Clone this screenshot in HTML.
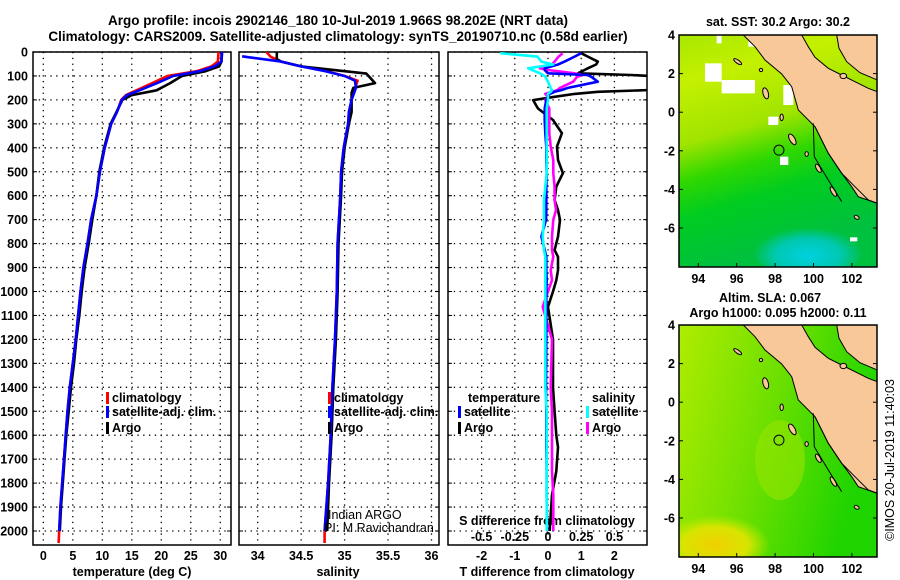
<!DOCTYPE html>
<html><head><meta charset="utf-8">
<style>
html,body{margin:0;padding:0;background:#fff;}
svg{display:block;font-family:"Liberation Sans",sans-serif;}
.b{font-weight:bold;font-size:12.5px;}
.t{font-weight:bold;font-size:13.5px;}
</style></head>
<body>
<svg id="c" width="900" height="580" viewBox="0 0 900 580" xmlns="http://www.w3.org/2000/svg">
<defs>
<clipPath id="cp1"><rect x="33" y="52" width="198" height="493"/></clipPath>
<clipPath id="cp2"><rect x="239" y="52" width="200" height="493"/></clipPath>
<clipPath id="cp3"><rect x="448" y="52" width="199" height="493"/></clipPath>
<clipPath id="cm1"><rect x="679" y="35" width="198" height="232"/></clipPath>
<clipPath id="cm2"><rect x="679" y="325" width="198" height="232"/></clipPath>
<linearGradient id="sst" x1="0" y1="0" x2="0.25" y2="1">
<stop offset="0" stop-color="#a8e800"/><stop offset="0.2" stop-color="#c4f000"/><stop offset="0.45" stop-color="#a0e400"/>
<stop offset="0.6" stop-color="#30d800"/><stop offset="0.75" stop-color="#00cc20"/><stop offset="1" stop-color="#00c040"/></linearGradient>
<radialGradient id="cyan" cx="0.5" cy="0.6" r="0.5"><stop offset="0" stop-color="#00d0e0"/><stop offset="0.6" stop-color="#00c8b0"/><stop offset="1" stop-color="#00c8b0" stop-opacity="0"/></radialGradient>
<linearGradient id="sla" x1="0" y1="0" x2="1" y2="0.3">
<stop offset="0" stop-color="#b0ec00"/><stop offset="0.5" stop-color="#70e000"/><stop offset="1" stop-color="#20d400"/></linearGradient>
<radialGradient id="yel" cx="0.5" cy="0.5" r="0.5"><stop offset="0" stop-color="#f0d000"/><stop offset="0.6" stop-color="#d8e400"/><stop offset="1" stop-color="#c0ec00" stop-opacity="0"/></radialGradient>
</defs>
<g id="root"></g>
</svg>
<script>
// ---------- data ----------
const depthTicks = [0,100,200,300,400,500,600,700,800,900,1000,1100,1200,1300,1400,1500,1600,1700,1800,1900,2000];
const tempTicks = [0,5,10,15,20,25,30];
const salTicks = [34,34.5,35,35.5,36];
const salTickLabels = ["34","34.5","35","35.5","36"];
const tdiffTicks = [-2,-1,0,1,2];
const sdiffTicks = [-0.5,-0.25,0,0.25,0.5];
const sdiffTickLabels = ["-0.5","-0.25","0","0.25","0.5"];

const argoTdepth = [0,40,60,80,100,130,160,180,200,250,300,400,500,600,700,800,900,1000,1100,1200,1300,1400,1500,1600,1700,1800,1900,2000];
const argoTemp =   [30.2,30.2,29.8,27.5,23.5,21.5,19.2,15,13.4,12.4,11.4,10.3,9.5,9.0,8.3,7.7,7.0,6.5,6.1,5.6,5.2,4.7,4.3,3.9,3.6,3.3,3.0,2.8];
const climTdepth = [0,40,60,80,100,130,160,180,200,250,300,400,500,600,700,800,900,1000,1100,1200,1300,1400,1500,1600,1700,1800,1900,2000,2050];
const climTemp =   [29.7,29.6,28.5,26,21,18.5,15.8,14,13.2,12.5,11.5,10.4,9.6,9.0,8.1,7.5,6.8,6.3,5.9,5.5,5.0,4.5,4.1,3.8,3.5,3.2,2.9,2.7,2.6];
const satTdepth =  [0,40,60,80,100,130,160,180,200,250,300,400,500,600,700,800,900,1000,1100,1200,1300,1400,1500,1600,1700,1800,1900,2000];
const satTemp =    [30.3,30.2,29,26.5,22,19.3,16.3,14.2,13.3,12.5,11.5,10.4,9.6,9.0,8.1,7.5,6.8,6.3,5.9,5.5,5.0,4.5,4.1,3.8,3.5,3.2,2.9,2.7];

const argoSdepth = [0,30,40,60,80,90,110,130,150,170,200,250,300,400,500,600,800,1000,1200,1400,1600,1800,2000];
const argoSal =    [34.22,34.22,34.27,34.5,35.0,35.25,35.3,35.35,35.1,35.08,35.08,35.08,35.05,35.0,34.97,34.96,34.93,34.92,34.9,34.87,34.85,34.82,34.8];
const climSdepth = [0,20,40,60,80,100,120,150,200,250,300,400,500,600,800,1000,1200,1400,1600,1800,2000,2050];
const climSal =    [34.1,34.15,34.27,34.5,34.8,35.0,35.15,35.12,35.08,35.05,35.04,34.99,34.96,34.95,34.92,34.91,34.89,34.86,34.84,34.81,34.77,34.77];
const satSdepth =  [18,22,40,60,80,100,120,150,200,250,300,400,500,600,800,1000,1200,1400,1600,1800,2000];
const satSal =     [33.82,33.9,34.27,34.5,34.78,35.0,35.12,35.13,35.08,35.05,35.04,34.99,34.96,34.95,34.92,34.91,34.89,34.86,34.84,34.81,34.77];

const diffDepth =  [5,19,40,52,68,75,89,96,103,124,150,159,166,175,187,201,236,284,339,395,451,506,562,618,660,701,771,827,855,911,953,1000,1064,1200,1400,1500,1600,1650,1750,1850,2000];
const argoTdiff =  [1.0,1.2,1.5,1.45,1.2,1.1,0.9,2.5,3.5,4.0,4.0,3.0,1.5,0.8,0.2,-0.45,-0.3,0.15,0.42,0.27,0.3,0.45,0.25,0.2,0.3,0.36,0.3,0.2,0.3,0.3,0.25,0.15,0.0,0.15,0.15,0.2,0.25,0.3,0.25,0.12,0.05];
const satTdiff =   [1.0,0.8,0.5,0.3,-0.1,-0.1,0.0,1.2,1.3,1.5,0.6,0.4,0.2,0.05,0.0,-0.05,-0.1,-0.1,-0.08,-0.05,-0.05,-0.04,-0.05,-0.05,-0.05,-0.06,-0.2,-0.1,-0.05,-0.05,-0.04,-0.05,-0.05,-0.05,-0.06,-0.05,-0.05,-0.05,-0.04,-0.04,-0.03];
const argoSdiff =  [0.11,0.08,0.05,0.03,-0.06,0.0,0.2,0.26,0.22,0.19,0.09,0.07,0.03,-0.02,0.0,-0.02,0.01,0.01,0.01,0.02,0.04,0.04,0.05,0.05,0.06,0.04,0.03,0.03,0.04,0.02,0.03,0.0,-0.04,0.03,0.02,0.03,0.03,0.03,0.03,0.04,0.04];
const satSdiff =   [-0.36,-0.08,-0.05,0.04,-0.15,-0.12,-0.06,-0.04,-0.02,0.0,0.02,0.03,0.02,0.0,0.0,0.0,-0.01,-0.01,-0.01,-0.01,-0.01,-0.01,-0.02,-0.03,-0.03,-0.03,-0.04,-0.03,-0.02,-0.02,-0.02,-0.02,-0.02,-0.02,-0.02,-0.01,-0.01,-0.01,-0.01,-0.01,-0.01];

const mapLonTicks = [94,96,98,100,102];
const mapLatTicks = [4,2,0,-2,-4,-6];
const argoLon = 98.202, argoLat = -1.966;

// ---------- scales ----------
const yD = d => 52 + d*0.2395;
const xT = t => 43.3 + t*5.9;
const xS = s => 257.7 + (s-34)*86.9;
const xTd = v => 548 + v*33.2;
const xSd = v => 548 + v*132.8;
const mX = lon => 698.3 + (lon-94)*19.2;
const mY = lat => 35 + (4-lat)*19.3;

const NS="http://www.w3.org/2000/svg";
const root=document.getElementById('root');
function el(tag, attrs, parent){const e=document.createElementNS(NS,tag);for(const k in attrs)e.setAttribute(k,attrs[k]);(parent||root).appendChild(e);return e;}
function txt(x,y,s,cls,anchor,parent){const e=el('text',{x:x,y:y,'class':cls||'b','text-anchor':anchor||'start'},parent);e.textContent=s;return e;}

// ---------- titles ----------
let e;
e=txt(338,25,"Argo profile: incois 2902146_180 10-Jul-2019 1.966S 98.202E (NRT data)","t","middle");


e=txt(338,41,"Climatology: CARS2009. Satellite-adjusted climatology: synTS_20190710.nc (0.58d earlier)","t","middle");



// ---------- panels ----------
const panels=[{x0:33,x1:231,clip:'cp1',name:'temperature-panel'},{x0:239,x1:439,clip:'cp2',name:'salinity-panel'},{x0:448,x1:647,clip:'cp3',name:'difference-panel'}];
const grids=[tempTicks.map(xT),salTicks.map(xS),tdiffTicks.map(xTd)];
panels.forEach((p,i)=>{
  const g=el('g',{});
  
  
  depthTicks.forEach(d=>{
    const l=el('line',{x1:p.x0,x2:p.x1,y1:yD(d),y2:yD(d),stroke:'#000','stroke-width':1.3,'stroke-dasharray':'1.3,4.5'},g);
    
    
    el('line',{x1:p.x0,x2:p.x0+4,y1:yD(d),y2:yD(d),stroke:'#000'},g);
    el('line',{x1:p.x1-4,x2:p.x1,y1:yD(d),y2:yD(d),stroke:'#000'},g);
  });
  grids[i].forEach(x=>{
    const l=el('line',{x1:x,x2:x,y1:52,y2:545,stroke:'#000','stroke-width':1.3,'stroke-dasharray':'1.3,4.5'},g);
    
    
  });
  const r=el('rect',{x:p.x0,y:52,width:p.x1-p.x0,height:493,fill:'none',stroke:'#000','stroke-width':1.5},g);
  
  
});

// y tick labels
depthTicks.forEach(d=>{
  const t=txt(28,yD(d)+4.5,String(d),'b','end');
  
  
});
tempTicks.forEach(v=>{const t=txt(xT(v),560,String(v),'b','middle');
  
  });
salTicks.forEach((v,i)=>{const t=txt(xS(v),560,salTickLabels[i],'b','middle');
  
  });
tdiffTicks.forEach(v=>{const t=txt(xTd(v),560,String(v),'b','middle');
  
  });
sdiffTicks.forEach((v,i)=>{const t=txt(xSd(v),541,sdiffTickLabels[i],'b','middle');
  
  });
e=txt(132,576,"temperature (deg C)",'b','middle');


e=txt(338,576,"salinity",'b','middle');


e=txt(547,576,"T difference from climatology",'b','middle');


e=txt(547,525,"S difference from climatology",'b','middle');



// ---------- series ----------
function series(depths,vals,xf,color,clip,name,w){
  const pts=depths.map((d,i)=>xf(vals[i]).toFixed(1)+','+yD(d).toFixed(1)).join(' ');
  const p=el('polyline',{points:pts,fill:'none',stroke:color,'stroke-width':w||2.6,'stroke-linejoin':'round','clip-path':'url(#'+clip+')'});
  
  
}
series(climTdepth,climTemp,xT,'#ff0000','cp1','temperature-climatology-line');
series(argoTdepth,argoTemp,xT,'#000','cp1','temperature-argo-line');
series(satTdepth,satTemp,xT,'#0000ff','cp1','temperature-satellite-line');
series(climSdepth,climSal,xS,'#ff0000','cp2','salinity-climatology-line');
series(argoSdepth,argoSal,xS,'#000','cp2','salinity-argo-line');
series(satSdepth,satSal,xS,'#0000ff','cp2','salinity-satellite-line');
series(diffDepth,argoTdiff,xTd,'#000','cp3','t-diff-argo-line');
series(diffDepth,argoSdiff,xSd,'#ff00ff','cp3','s-diff-argo-line');
series(diffDepth,satTdiff,xTd,'#0000ff','cp3','t-diff-satellite-line');
series(diffDepth,satSdiff,xSd,'#00ffff','cp3','s-diff-satellite-line');

// ---------- legends ----------
function legend(x,y,color,label,name){
  const g=el('g',{});
  
  
  if(color) el('rect',{x:x,y:y-10,width:3,height:12,fill:color},g);
  txt(x+6,y,label,'b','start',g);
}
legend(106,402,'#ff0000','climatology','legend-climatology');
legend(106,416,'#0000ff','satellite-adj. clim.','legend-satellite-adj');
legend(106,432,'#000','Argo','legend-argo');
legend(328,402,'#ff0000','climatology','legend-sal-climatology');
legend(328,416,'#0000ff','satellite-adj. clim.','legend-sal-satellite-adj');
legend(328,432,'#000','Argo','legend-sal-argo');
legend(462,402,null,'temperature','legend-temperature-header');
legend(458,416,'#0000ff','satellite','legend-t-satellite');
legend(458,432,'#000','Argo','legend-t-argo');
legend(586,402,null,'salinity','legend-salinity-header');
legend(586,416,'#00ffff','satellite','legend-s-satellite');
legend(586,432,'#ff00ff','Argo','legend-s-argo');
e=el('text',{x:328,y:519,'font-size':'12.5px'});e.textContent='Indian ARGO';


e=el('text',{x:324,y:532,'font-size':'12.5px'});e.textContent='PI: M Ravichandran';



// ---------- maps ----------
const Z=(zx,zy,off)=>[(655+zx/3).toFixed(1),(off+zy/3).toFixed(1)].join(',');
const sumatraZ=[[265,105],[440,105],[460,140],[480,172],[520,205],[560,225],[600,245],[640,265],[667,275],[667,610],[610,590],[590,560],[560,520],[520,460],[480,380],[430,330],[410,260],[380,222],[330,180],[300,140]];
const malayZ=[[545,105],[667,105],[667,240],[615,218],[575,185],[552,145]];
const islandsZ=[[248,185,14,5,35],[332,280,8,17,-15],[380,352,5,10,0],[412,418,8,18,-30],[455,462,5,7,0],[490,505,6,14,-30],[535,575,6,16,-30],[605,652,8,5,30],[565,228,10,8,0],[318,210,5,5,0]];
function drawMap(off,clip,fill,extra,name){
  const g=el('g',{'clip-path':'url(#'+clip+')'});
  
  
  const bg=el('rect',{x:679,y:off+35,width:198,height:232,fill:fill},g);
  extra(g);
  el('polygon',{points:sumatraZ.map(p=>Z(p[0],p[1],off)).join(' '),fill:'#f8c898',stroke:'#000','stroke-width':1},g);
  el('polygon',{points:malayZ.map(p=>Z(p[0],p[1],off)).join(' '),fill:'#f8c898',stroke:'#000','stroke-width':1},g);
  islandsZ.forEach(s=>{
    el('ellipse',{cx:655+s[0]/3,cy:off+s[1]/3,rx:s[2]/3,ry:s[3]/3,transform:`rotate(${s[4]} ${655+s[0]/3} ${off+s[1]/3})`,fill:'#f8c898',stroke:'#000','stroke-width':1},g);
  });
  el('polyline',{points:[[475,370],[478,470],[520,540],[560,605]].map(p=>Z(p[0],p[1],off)).join(' '),fill:'none',stroke:'#000','stroke-width':1},g);
  el('polyline',{points:[[480,380],[520,460],[560,520],[600,560],[640,600],[667,610]].map(p=>Z(p[0],p[1],off)).join(' '),fill:'none',stroke:'#000','stroke-width':1},g);
  const c=el('circle',{cx:mX(argoLon),cy:mY(argoLat)+off,r:5,fill:'none',stroke:'#000','stroke-width':1},root);
  
  
  const f=el('rect',{x:679,y:off+35,width:198,height:232,fill:'none',stroke:'#000','stroke-width':1.5});
  
  
  mapLonTicks.forEach(v=>{
    el('line',{x1:mX(v),x2:mX(v),y1:off+267,y2:off+263,stroke:'#000'});
    const t=txt(mX(v),off+283,String(v),'b','middle');
    
    
  });
  mapLatTicks.forEach(v=>{
    el('line',{x1:679,x2:683,y1:mY(v)+off,y2:mY(v)+off,stroke:'#000'});
    el('line',{x1:873,x2:877,y1:mY(v)+off,y2:mY(v)+off,stroke:'#000'});
    const t=txt(675,mY(v)+off+4.5,String(v),'b','end');
    
    
  });
}
drawMap(0,'cm1','url(#sst)',g=>{
  el('ellipse',{cx:808,cy:250,rx:55,ry:28,fill:'url(#cyan)'},g);
  [[150,190,50,55],[200,240,100,40],[185,105,15,25],[340,350,30,25],[375,470,25,25],[585,712,22,12],[280,120,30,20],[385,255,30,60]].forEach(r=>{
    el('rect',{x:655+r[0]/3,y:r[1]/3,width:r[2]/3,height:r[3]/3,fill:'#fff'},g);
  });
},'sst-map');
drawMap(290,'cm2','url(#sla)',g=>{
  el('ellipse',{cx:715,cy:545,rx:55,ry:30,fill:'url(#yel)'},g);
  el('ellipse',{cx:780,cy:460,rx:25,ry:40,fill:'#98e400',opacity:0.6},g);
},'sla-map');

e=txt(778,26,"sat. SST: 30.2 Argo: 30.2",'b','middle');


e=txt(770,302,"Altim. SLA: 0.067",'b','middle');


e=txt(778,317,"Argo h1000: 0.095 h2000: 0.11",'b','middle');


e=el('text',{x:0,y:0,'font-size':'12.5px',transform:'translate(894,460) rotate(-90)','text-anchor':'middle'});
e.textContent='©IMOS 20-Jul-2019 11:40:03';


</script>
</body></html>
